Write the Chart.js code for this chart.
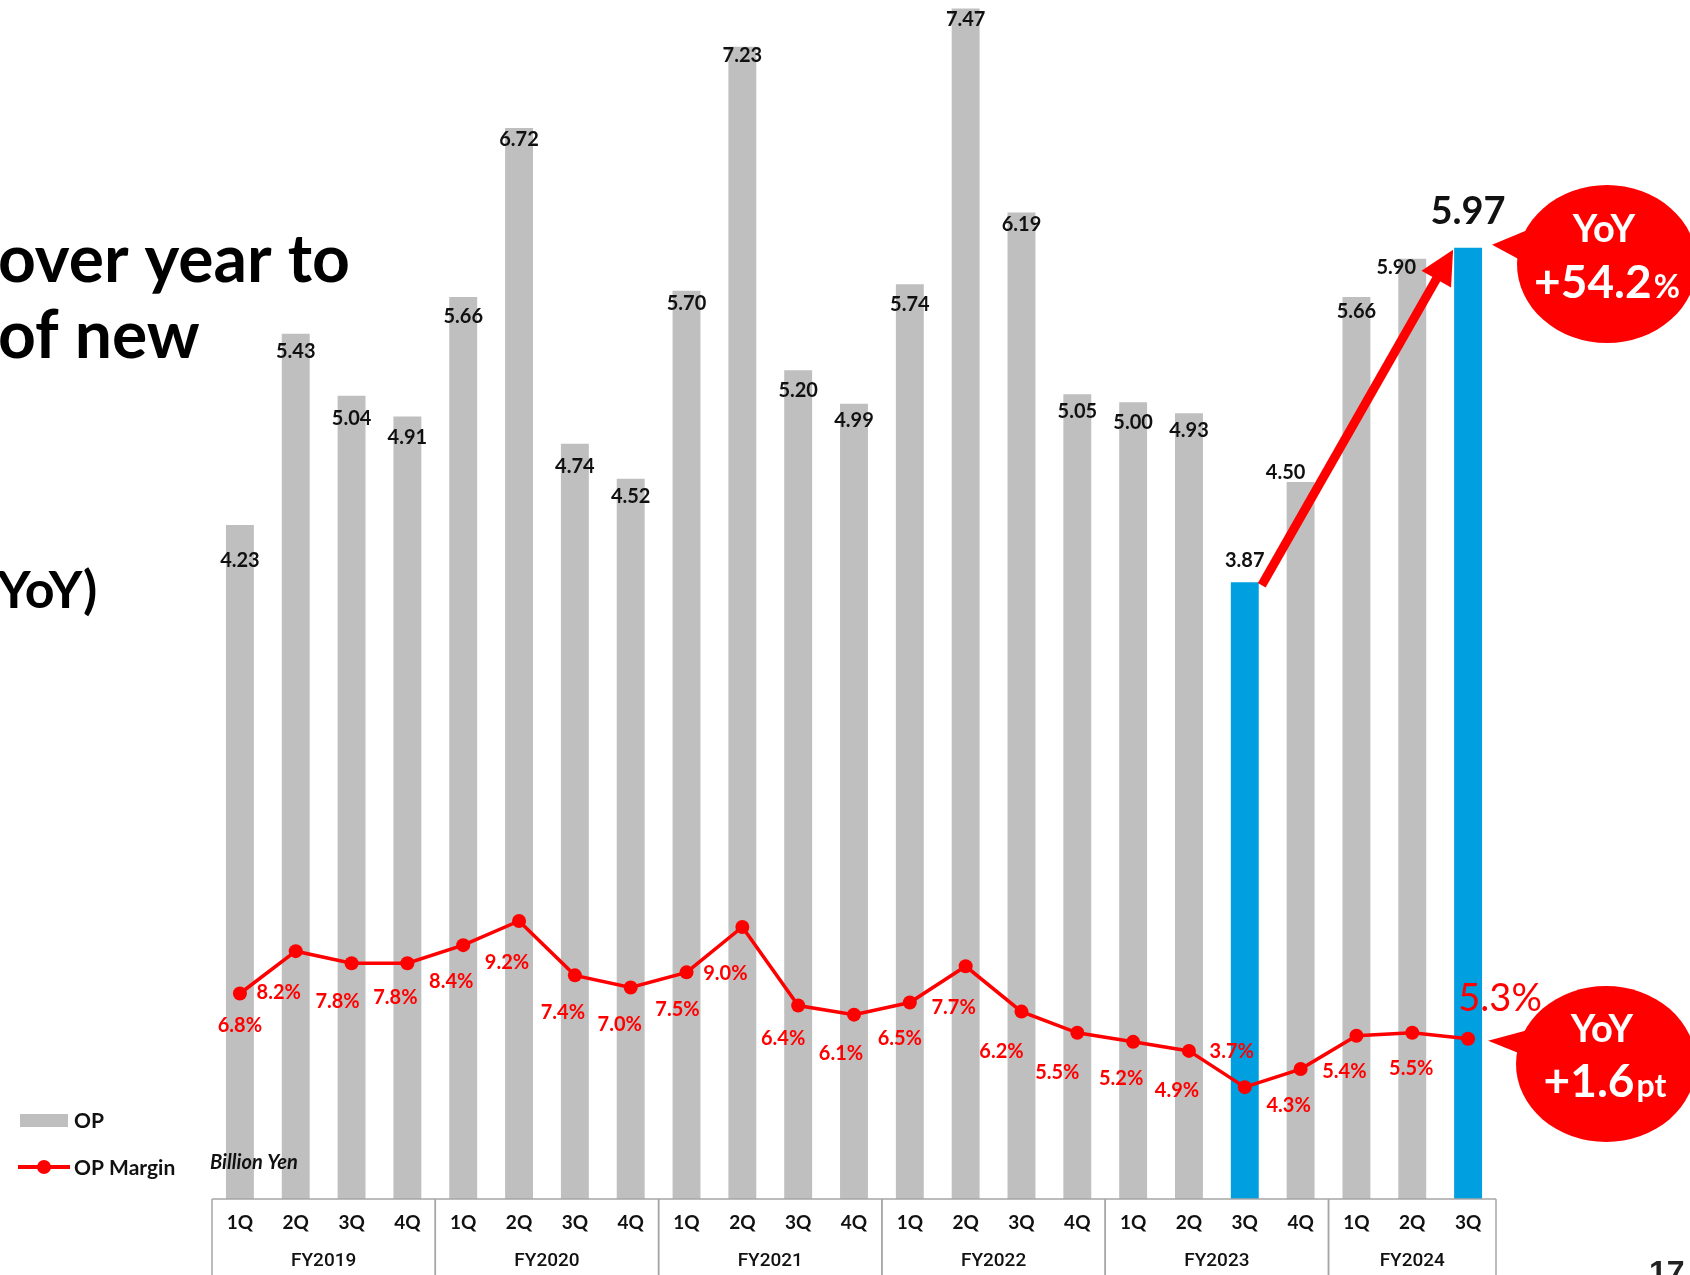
<!DOCTYPE html>
<html lang="en">
<head>
<meta charset="UTF-8">
<title>OP / OP Margin by Quarter</title>
<script src="https://cdn.jsdelivr.net/npm/chart.js"></script>
<style>
  html, body { margin: 0; padding: 0; background: #ffffff; overflow: hidden; }
  #wrap { position: relative; width: 1690px; height: 1275px; }
</style>
</head>
<body>
<div id="wrap"><canvas id="opChart" width="1690" height="1275"></canvas></div>
<script>
// --- data ---
const quarters = ['1Q','2Q','3Q','4Q', '1Q','2Q','3Q','4Q', '1Q','2Q','3Q','4Q',
                  '1Q','2Q','3Q','4Q', '1Q','2Q','3Q','4Q', '1Q','2Q','3Q'];
const fiscalYears = ['FY2019','FY2020','FY2021','FY2022','FY2023','FY2024'];
const quartersPerYear = [4, 4, 4, 4, 4, 3];
const opValues = [4.23, 5.43, 5.04, 4.91, 5.66, 6.72, 4.74, 4.52, 5.70, 7.23, 5.20, 4.99,
                  5.74, 7.47, 6.19, 5.05, 5.00, 4.93, 3.87, 4.50, 5.66, 5.90, 5.97];
const opMargin = [6.8, 8.2, 7.8, 7.8, 8.4, 9.2, 7.4, 7.0, 7.5, 9.0, 6.4, 6.1,
                  6.5, 7.7, 6.2, 5.5, 5.2, 4.9, 3.7, 4.3, 5.4, 5.5, 5.3];
const highlighted = [18, 22];           // same quarter, previous vs current year
const yoyOp = '+54.2';
const yoyMargin = '+1.6';
const headingLines = ['over year to', 'of new'];
const headingNote = 'YoY)';

// --- look ---
const GRAY = '#bfbfbf';
const BLUE = '#009fdf';
const RED = '#ff0000';
const INK = '#111111';
const FONT = 'Lato, "Noto Sans", sans-serif';

// label nudges in px (value label centre relative to bar top / point)
const barLabelDy = [36, 18, 23, 21, 20, 11, 23, 18, 13, 9, 20, 17, 20, 11, 12, 17, 20, 17, -22, -9, 15, 9, 0];
const barLabelDx = [0, 0, 0, 0, 0, 0, 0, 0, 0, 0, 0, 0, 0, 0, 0, 0, 0, 0, 0, -15, 0, -16, 0];
const marginLabelDx = [0, -17, -14, -12, -12, -12, -12, -11, -9, -17, -15, -13, -10, -12, -20, -20, -12, -12, -13, -12, -12, -1, 0];
const marginLabelDy = [32, 41, 38, 34, 36, 42, 37, 37, 37, 47, 33, 39, 36, 41, 40, 40, 37, 40, -36, 37, 36, 36, 0];

const barColors = opValues.map((v, i) => highlighted.includes(i) ? BLUE : GRAY);

function txt(ctx, s, x, y, font, color, align, baseline) {
  ctx.font = font;
  ctx.fillStyle = color;
  ctx.textAlign = align || 'center';
  ctx.textBaseline = baseline || 'middle';
  ctx.fillText(s, x, y);
}

// speech bubble: ellipse plus a wedge pointing at (tx, ty)
function bubble(ctx, cx, cy, rx, ry, tx, ty, b1, b2) {
  ctx.fillStyle = RED;
  ctx.beginPath();
  ctx.ellipse(cx, cy, rx, ry, 0, 0, Math.PI * 2);
  ctx.fill();
  ctx.beginPath();
  ctx.moveTo(tx, ty);
  ctx.lineTo(b1[0], b1[1]);
  ctx.lineTo(b2[0], b2[1]);
  ctx.closePath();
  ctx.fill();
}

// big number followed by a smaller unit, centred as one run
function splitText(ctx, big, small, cx, baseY, bigFont, smallFont) {
  ctx.font = bigFont;
  const w1 = ctx.measureText(big).width;
  ctx.font = smallFont;
  const w2 = ctx.measureText(small).width;
  const x0 = cx - (w1 + w2) / 2;
  txt(ctx, big, x0, baseY, bigFont, '#ffffff', 'left', 'alphabetic');
  txt(ctx, small, x0 + w1 + 2, baseY, smallFont, '#ffffff', 'left', 'alphabetic');
}

const slideDecor = {
  id: 'slideDecor',
  afterDraw(chart) {
    const ctx = chart.ctx;
    const xs = chart.scales.x;
    const area = chart.chartArea;
    const bars = chart.getDatasetMeta(1).data;
    const pts = chart.getDatasetMeta(0).data;
    ctx.save();

    // value labels on bars
    bars.forEach((b, i) => {
      if (i === 22) return;
      txt(ctx, opValues[i].toFixed(2), b.x + barLabelDx[i], b.y + barLabelDy[i], 'bold 20px ' + FONT, INK);
    });
    // margin labels
    pts.forEach((p, i) => {
      if (i === 22) return;
      txt(ctx, opMargin[i].toFixed(1) + '%', p.x + marginLabelDx[i], p.y + marginLabelDy[i], 'bold 20px ' + FONT, RED);
    });

    // latest quarter, emphasised
    const last = bars[22];
    txt(ctx, opValues[22].toFixed(2), last.x, last.y - 24, 'bold 38px ' + FONT, INK, 'center', 'alphabetic');
    txt(ctx, opMargin[22].toFixed(1) + '%', last.x + 32, pts[22].y - 28, '400 38px ' + FONT, RED, 'center', 'alphabetic');

    // arrow from last year's 3Q bar to this year's 3Q bar
    const from = bars[18];
    const sx = from.x + from.width / 2 + 3, sy = from.y + 3;
    const ex = last.x - 15, ey = last.y + 2;
    const ang = Math.atan2(ey - sy, ex - sx);
    const headLen = 34, headHalf = 17;
    const bx = ex - headLen * Math.cos(ang), by = ey - headLen * Math.sin(ang);
    ctx.strokeStyle = RED;
    ctx.lineWidth = 9;
    ctx.lineCap = 'butt';
    ctx.beginPath();
    ctx.moveTo(sx, sy);
    ctx.lineTo(bx + 2 * Math.cos(ang), by + 2 * Math.sin(ang));
    ctx.stroke();
    ctx.fillStyle = RED;
    ctx.beginPath();
    ctx.moveTo(ex, ey);
    ctx.lineTo(bx + headHalf * Math.sin(ang), by - headHalf * Math.cos(ang));
    ctx.lineTo(bx - headHalf * Math.sin(ang), by + headHalf * Math.cos(ang));
    ctx.closePath();
    ctx.fill();

    // YoY bubbles
    const rightEdge = last.x + last.width / 2;
    bubble(ctx, 1607, 264, 90, 79, rightEdge + 10, last.y - 3, [1530, 229], [1524, 262]);
    txt(ctx, 'YoY', 1604, 242, 'bold 38px ' + FONT, '#ffffff', 'center', 'alphabetic');
    splitText(ctx, yoyOp, '%', 1606, 298, 'bold 46px ' + FONT, 'bold 32px ' + FONT);

    bubble(ctx, 1606, 1064, 90, 78, pts[22].x + 20, pts[22].y + 2, [1528, 1030], [1521, 1054]);
    txt(ctx, 'YoY', 1602, 1042, 'bold 38px ' + FONT, '#ffffff', 'center', 'alphabetic');
    splitText(ctx, yoyMargin, 'pt', 1604, 1097, 'bold 46px ' + FONT, 'bold 32px ' + FONT);

    // category axis drawn as a table
    const step = xs.width / quarters.length;
    ctx.strokeStyle = '#a6a6a6';
    ctx.lineWidth = 1.5;
    ctx.beginPath();
    ctx.moveTo(area.left, area.bottom);
    ctx.lineTo(area.right, area.bottom);
    ctx.stroke();
    quarters.forEach((q, i) => {
      txt(ctx, q, xs.getPixelForValue(i), area.bottom + 24, 'bold 19px ' + FONT, INK);
    });
    let start = 0;
    fiscalYears.forEach((fy, k) => {
      const n = quartersPerYear[k];
      const left = area.left + start * step;
      const right = left + n * step;
      ctx.beginPath();
      ctx.moveTo(left, area.bottom);
      ctx.lineTo(left, chart.height);
      ctx.moveTo(right, area.bottom);
      ctx.lineTo(right, chart.height);
      ctx.stroke();
      txt(ctx, fy, (left + right) / 2, area.bottom + 62, '500 19px Roboto, "Liberation Sans", sans-serif', INK);
      start += n;
    });

    // legend
    ctx.fillStyle = GRAY;
    ctx.fillRect(20, 1114, 48, 13);
    txt(ctx, 'OP', 74, 1121, 'bold 21px ' + FONT, INK, 'left');
    ctx.strokeStyle = RED;
    ctx.lineWidth = 4;
    ctx.beginPath();
    ctx.moveTo(18, 1167);
    ctx.lineTo(70, 1167);
    ctx.stroke();
    ctx.fillStyle = RED;
    ctx.beginPath();
    ctx.arc(44, 1167, 7, 0, Math.PI * 2);
    ctx.fill();
    txt(ctx, 'OP Margin', 74, 1168, 'bold 21px ' + FONT, INK, 'left');
    txt(ctx, 'Billion Yen', 210, 1163, 'italic bold 20px ' + FONT, INK, 'left');

    // slide text around the chart
    txt(ctx, headingLines[0], -2, 282, 'bold 66px ' + FONT, '#000000', 'left', 'alphabetic');
    txt(ctx, headingLines[1], -2, 358, 'bold 66px ' + FONT, '#000000', 'left', 'alphabetic');
    txt(ctx, headingNote, -3, 608, 'bold 52px ' + FONT, '#000000', 'left', 'alphabetic');
    txt(ctx, '17', 1649, 1283, 'bold 32px "Liberation Sans", Arial, sans-serif', '#222222', 'left', 'alphabetic');

    ctx.restore();
  }
};

const ctx = document.getElementById('opChart').getContext('2d');
new Chart(ctx, {
  type: 'bar',
  data: {
    labels: quarters,
    datasets: [
      {
        type: 'line',
        label: 'OP Margin',
        data: opMargin,
        yAxisID: 'yMargin',
        borderColor: RED,
        backgroundColor: RED,
        borderWidth: 3.5,
        pointRadius: 7,
        pointBackgroundColor: RED,
        pointBorderWidth: 0,
        tension: 0,
        order: 0
      },
      {
        type: 'bar',
        label: 'OP',
        data: opValues,
        yAxisID: 'yOp',
        backgroundColor: barColors,
        barPercentage: 1,
        categoryPercentage: 0.5,
        order: 1
      }
    ]
  },
  options: {
    responsive: false,
    animation: false,
    layout: { padding: { left: 212, right: 194, top: 0, bottom: 76 } },
    plugins: { legend: { display: false }, tooltip: { enabled: false } },
    scales: {
      x: { display: false, offset: true },
      yOp: { display: false, min: 0, max: 7.48 },
      yMargin: { display: false, min: 0, max: 39.44 }
    }
  },
  plugins: [slideDecor]
});
</script>
</body>
</html>
